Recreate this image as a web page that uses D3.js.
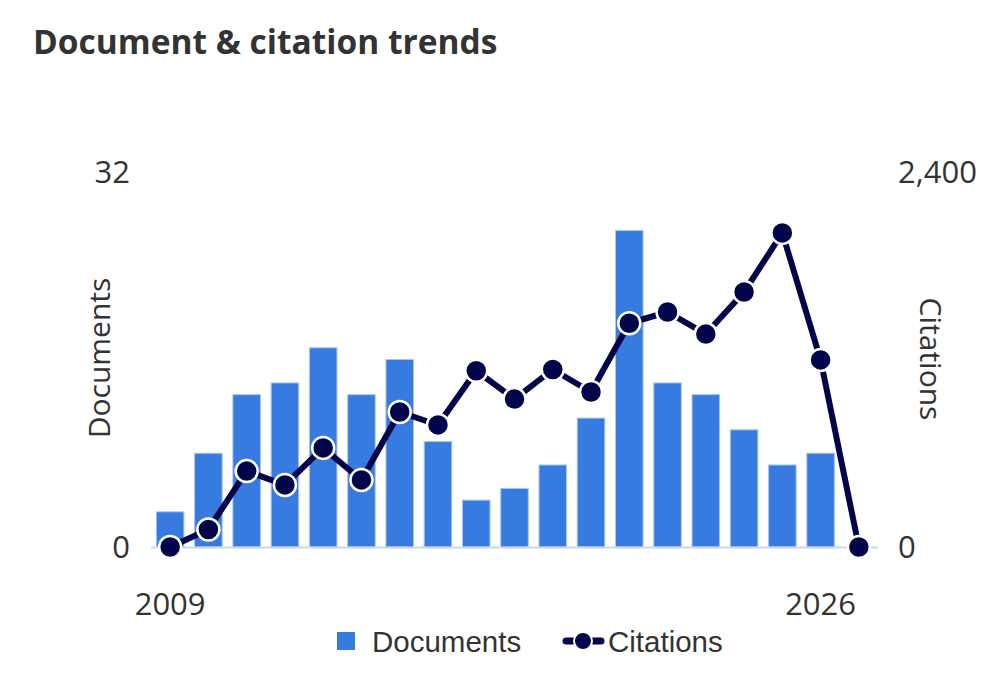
<!DOCTYPE html>
<html>
<head>
<meta charset="utf-8">
<script src="https://cdn.jsdelivr.net/npm/d3@7"></script>
<style>
  body { margin: 0; background: #fff; }
  svg { display: block; font-family: "Open Sans", "Noto Sans", sans-serif; }
  .tick-label { font-size: 31px; fill: #333; }
  .axis-title { font-size: 30px; fill: #333; }
  .legend-label { font-family: "Liberation Sans", Arial, sans-serif; font-size: 29.5px; fill: #333; }
</style>
</head>
<body>
<div id="chart"></div>
<script>
const years = ["2009","2010","2011","2012","2013","2014","2015","2016","2017","2018",
               "2019","2020","2021","2022","2023","2024","2025","2026","2027"];
const documents = [3, 8, 13, 14, 17, 13, 16, 9, 4, 5, 7, 11, 27, 14, 13, 10, 7, 8, 0];
const citations = [0, 112, 486, 397, 634, 429, 864, 781, 1128, 947, 1136, 992, 1432, 1504, 1363, 1632, 2010, 1197, 0];
const xTickLabels = ["2009", "2026"];
const docTicks = [0, 32];
const citeTicks = [0, 2400];

const width = 1002, height = 698;
const barColor = "#377ae0", lineColor = "#03054a";

const svg = d3.select("#chart").append("svg")
  .attr("width", width).attr("height", height);

const x = d3.scaleBand().domain(years).range([151, 878])
  .paddingInner(0.28).paddingOuter(0.14);
const yDoc = d3.scaleLinear().domain([0, 32]).range([547, 172]);
const yCite = d3.scaleLinear().domain([0, 2400]).range([547, 172]);

// title
svg.append("text")
  .attr("x", 33).attr("y", 54)
  .attr("font-size", 33.5).attr("font-weight", 700).attr("fill", "#333")
  .text("Document & citation trends");

// bars
svg.append("g").selectAll("rect").data(years).join("rect")
  .attr("x", d => x(d))
  .attr("width", x.bandwidth())
  .attr("y", (d, i) => yDoc(documents[i]))
  .attr("height", (d, i) => yDoc(0) - yDoc(documents[i]))
  .attr("fill", barColor)
  .attr("stroke", "#a9c5f2").attr("stroke-width", 1)
  .attr("display", (d, i) => documents[i] > 0 ? null : "none");

// baseline
svg.append("line")
  .attr("x1", 151).attr("x2", 878)
  .attr("y1", yDoc(0) + 0.5).attr("y2", yDoc(0) + 0.5)
  .attr("stroke", "#ccd6eb").attr("stroke-width", 2);

// left axis labels
svg.append("g").selectAll("text").data(docTicks).join("text")
  .attr("class", "tick-label")
  .attr("x", 130).attr("y", d => yDoc(d))
  .attr("dy", "0.36em").attr("text-anchor", "end")
  .text(d3.format(","));

// right axis labels
svg.append("g").selectAll("text").data(citeTicks).join("text")
  .attr("class", "tick-label")
  .attr("x", 898).attr("y", d => yCite(d))
  .attr("dy", "0.36em").attr("text-anchor", "start")
  .text(d3.format(","));

// x labels
svg.append("g").selectAll("text").data(xTickLabels).join("text")
  .attr("class", "tick-label")
  .attr("x", d => x(d) + x.bandwidth() / 2).attr("y", 615)
  .attr("text-anchor", "middle")
  .text(d => d);

// axis titles
svg.append("text").attr("class", "axis-title")
  .attr("transform", "translate(110,358) rotate(-90)")
  .attr("text-anchor", "middle")
  .text("Documents");
svg.append("text").attr("class", "axis-title")
  .attr("transform", "translate(920,359) rotate(90)")
  .attr("text-anchor", "middle")
  .text("Citations");

// citation line
const line = d3.line()
  .x((d, i) => x(years[i]) + x.bandwidth() / 2)
  .y(d => yCite(d));

svg.append("path").datum(citations)
  .attr("d", line)
  .attr("fill", "none").attr("stroke", lineColor)
  .attr("stroke-width", 6).attr("stroke-linejoin", "round");

svg.append("g").selectAll("circle").data(citations).join("circle")
  .attr("cx", (d, i) => x(years[i]) + x.bandwidth() / 2)
  .attr("cy", d => yCite(d))
  .attr("r", 11)
  .attr("fill", lineColor)
  .attr("stroke", "#fff").attr("stroke-width", 2.5);

// legend
const legend = svg.append("g").attr("transform", "translate(0,641)");
legend.append("rect")
  .attr("x", 337).attr("y", -9).attr("width", 18).attr("height", 18)
  .attr("fill", barColor);
legend.append("text").attr("class", "legend-label")
  .attr("x", 372).attr("y", 11).text("Documents");

legend.append("line")
  .attr("x1", 566).attr("x2", 601).attr("y1", 0).attr("y2", 0)
  .attr("stroke", lineColor).attr("stroke-width", 7).attr("stroke-linecap", "round");
legend.append("circle")
  .attr("cx", 583).attr("cy", 0).attr("r", 9)
  .attr("fill", lineColor).attr("stroke", "#fff").attr("stroke-width", 2);
legend.append("text").attr("class", "legend-label")
  .attr("x", 608).attr("y", 11).text("Citations");
</script>
</body>
</html>
